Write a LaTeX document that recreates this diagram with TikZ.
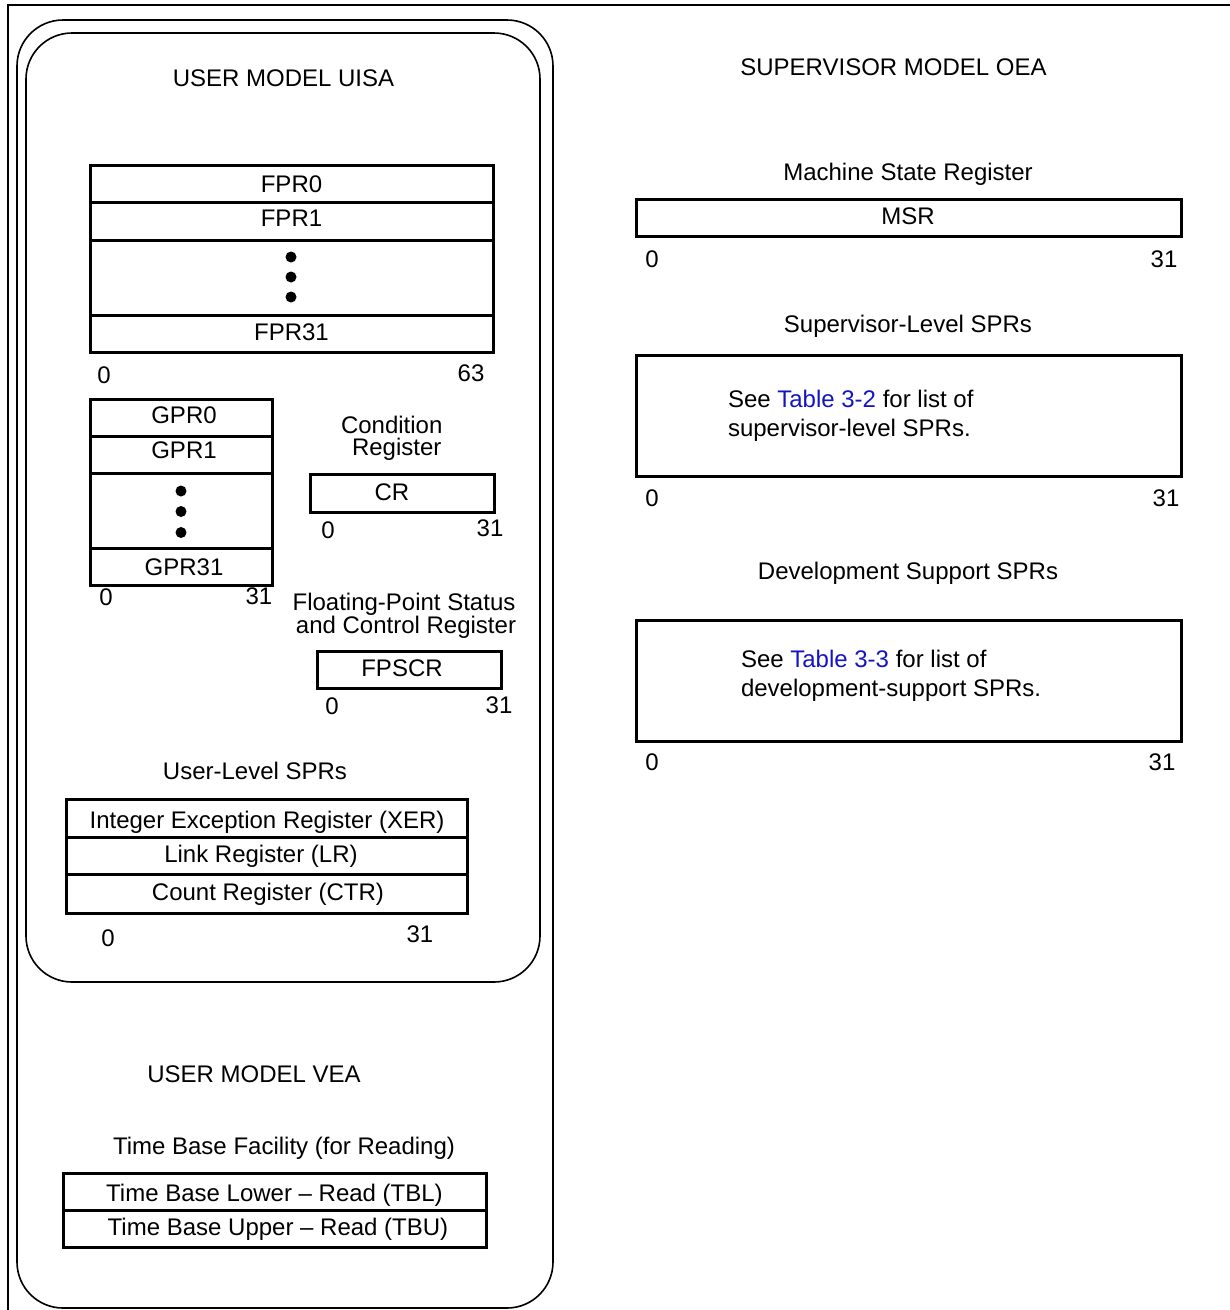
\documentclass[tikz,border=0pt]{standalone}
\usepackage{fontspec}
\setmainfont{Liberation Sans}
\definecolor{linkblue}{RGB}{20,20,195}
\begin{document}
\begin{tikzpicture}[x=1pt,y=-1pt,
  every node/.style={inner sep=0pt, outer sep=0pt, font=\fontsize{24}{29}\selectfont},
  lbl/.style={anchor=base},
  lblw/.style={anchor=base west},
  regbox/.style={draw=black, line width=3pt},
  sepline/.style={draw=black, line width=3pt},
  modelframe/.style={draw=black, line width=1.6pt, rounded corners=46pt},
  pageframe/.style={draw=black, line width=2.6pt, line join=miter},
  dotmark/.style={fill=black}]
\useasboundingbox (0,0) rectangle (1230,1310);

% page frame (only top and left visible)
\draw[pageframe] (8,1315) -- (8,5) -- (1235,5);

% model frames
\draw[modelframe] (17,20) rectangle (553,1308);
\draw[modelframe] (26,33) rectangle (540,982);

% ---------------- USER MODEL UISA ----------------
\node[lbl] (uisa) at (283.5,86) {USER MODEL UISA};

% FPRs
\draw[regbox] (90,165) rectangle (493,352);
\draw[sepline] (90,202) -- (493,202);
\draw[sepline] (90,240) -- (493,240);
\draw[sepline] (90,315) -- (493,315);
\node[lbl] (fpr0) at (291.5,192.5) {FPR0};
\node[lbl] (fpr1) at (291.5,226) {FPR1};
\node[lbl] (fpr31) at (291.5,340) {FPR31};
\fill[dotmark] (291,257) circle (5.5pt);
\fill[dotmark] (291,277) circle (5.5pt);
\fill[dotmark] (291,297) circle (5.5pt);
\node[lbl] (fprlo) at (104,383) {0};
\node[lbl] (fprhi) at (471,381) {63};

% GPRs
\draw[regbox] (90,399) rectangle (272,585);
\draw[sepline] (90,436) -- (272,436);
\draw[sepline] (90,473) -- (272,473);
\draw[sepline] (90,548) -- (272,548);
\node[lbl] (gpr0) at (184,423) {GPR0};
\node[lbl] (gpr1) at (184,458) {GPR1};
\node[lbl] (gpr31) at (184,575) {GPR31};
\fill[dotmark] (181,491) circle (5.5pt);
\fill[dotmark] (181,511.5) circle (5.5pt);
\fill[dotmark] (181,532.5) circle (5.5pt);
\node[lbl] (gprlo) at (106,605) {0};
\node[lbl] (gprhi) at (259,604) {31};

% Condition register
\node[lbl] (crt1) at (391.7,433) {Condition};
\node[lbl] (crt2) at (396.7,455.5) {Register};
\draw[regbox] (310,474) rectangle (494,512);
\node[lbl] (cr) at (392,500) {CR};
\node[lbl] (crlo) at (328,538) {0};
\node[lbl] (crhi) at (490,536) {31};

% FPSCR
\node[lbl] (fpt1) at (404,610) {Floating-Point Status};
\node[lbl] (fpt2) at (406,633) {and Control Register};
\draw[regbox] (317,651) rectangle (501,688);
\node[lbl] (fpscr) at (402,676) {FPSCR};
\node[lbl] (fplo) at (332,714) {0};
\node[lbl] (fphi) at (499,713) {31};

% User-level SPRs
\node[lbl] (ulspr) at (255,779) {User-Level SPRs};
\draw[regbox] (66,799) rectangle (467,913);
\draw[sepline] (66,837) -- (467,837);
\draw[sepline] (66,874) -- (467,874);
\node[lbl] (xer) at (267,828.5) {Integer Exception Register (XER)};
\node[lbl] (lr) at (261,862.5) {Link Register (LR)};
\node[lbl] (ctr) at (268,900.5) {Count Register (CTR)};
\node[lbl] (sprlo) at (108,946) {0};
\node[lbl] (sprhi) at (420,942) {31};

% ---------------- USER MODEL VEA ----------------
\node[lbl] (vea) at (254,1082.5) {USER MODEL VEA};
\node[lbl] (tbf) at (284,1154) {Time Base Facility (for Reading)};
\draw[regbox] (63,1173) rectangle (486,1247);
\draw[sepline] (63,1210) -- (488,1210);
\node[lbl] (tbl) at (274.5,1201) {Time Base Lower – Read (TBL)};
\node[lbl] (tbu) at (278,1235) {Time Base Upper – Read (TBU)};

% ---------------- SUPERVISOR MODEL OEA ----------------
\node[lbl] (oea) at (893.5,75) {SUPERVISOR MODEL OEA};

\node[lbl] (msrt) at (908,180) {Machine State Register};
\draw[regbox] (636,199) rectangle (1181,236);
\node[lbl] (msr) at (908,224) {MSR};
\node[lbl] (msrlo) at (652,267) {0};
\node[lbl] (msrhi) at (1164,267) {31};

\node[lbl] (svt) at (908,332) {Supervisor-Level SPRs};
\draw[regbox] (636,355) rectangle (1181,476);
\node[lblw] (sv1) at (728,407) {See \textcolor{linkblue}{Table 3-2} for list of};
\node[lblw] (sv2) at (728,436) {supervisor-level SPRs.};
\node[lbl] (svlo) at (652,506) {0};
\node[lbl] (svhi) at (1166,506) {31};

\node[lbl] (dst) at (908,579) {Development Support SPRs};
\draw[regbox] (636,620) rectangle (1181,741);
\node[lblw] (ds1) at (741,667) {See \textcolor{linkblue}{Table 3-3} for list of};
\node[lblw] (ds2) at (741,696) {development-support SPRs.};
\node[lbl] (dslo) at (652,770) {0};
\node[lbl] (dshi) at (1162,770) {31};
\end{tikzpicture}
\end{document}
